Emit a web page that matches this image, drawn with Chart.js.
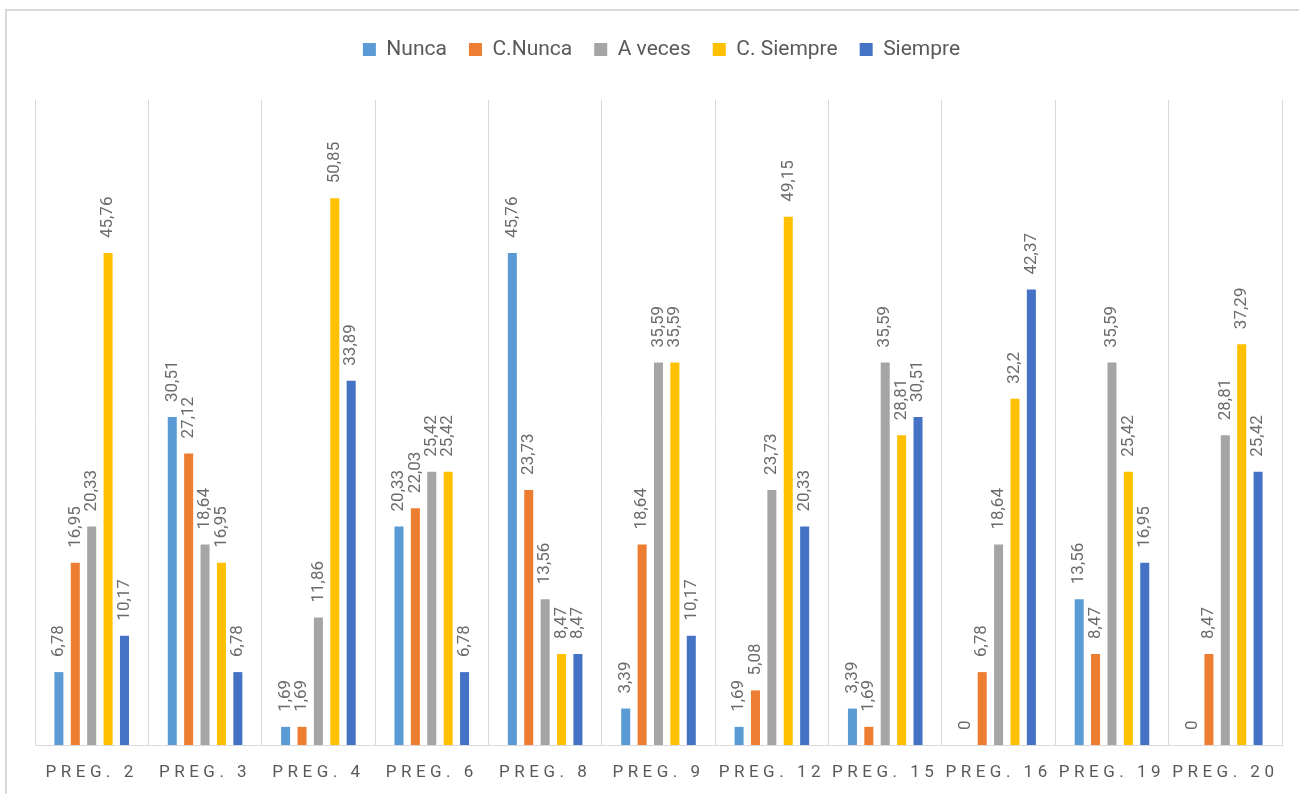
<!DOCTYPE html>
<html>
<head>
<meta charset="utf-8">
<title>Respuestas por pregunta</title>
<script src="https://cdn.jsdelivr.net/npm/chart.js@4.4.1/dist/chart.umd.min.js"></script>
<style>
  html, body { margin: 0; padding: 0; background: #fff; overflow: hidden; }
  #frame { position: absolute; left: 5px; top: 9px; width: 1400px; height: 900px; border: 2px solid #d9d9d9; box-sizing: border-box; }
  #chart { position: absolute; left: 0; top: 0; }
</style>
</head>
<body>
<div id="frame"></div>
<canvas id="chart" width="1299" height="794"></canvas>
<script>
const preguntas = ['PREG. 2', 'PREG. 3', 'PREG. 4', 'PREG. 6', 'PREG. 8', 'PREG. 9', 'PREG. 12', 'PREG. 15', 'PREG. 16', 'PREG. 19', 'PREG. 20'];
const nunca      = [6.78, 30.51, 1.69, 20.33, 45.76, 3.39, 1.69, 3.39, 0, 13.56, 0];
const casiNunca  = [16.95, 27.12, 1.69, 22.03, 23.73, 18.64, 5.08, 1.69, 6.78, 8.47, 8.47];
const aVeces     = [20.33, 18.64, 11.86, 25.42, 13.56, 35.59, 23.73, 35.59, 18.64, 35.59, 28.81];
const casiSiempre = [45.76, 16.95, 50.85, 25.42, 8.47, 35.59, 49.15, 28.81, 32.2, 25.42, 37.29];
const siempre    = [10.17, 6.78, 33.89, 6.78, 8.47, 10.17, 20.33, 30.51, 42.37, 16.95, 25.42];

const TEXT = '#595959';
const GRID = '#d9d9d9';

// extra room under the legend so the plot starts lower
const legendSpace = {
    id: 'legendSpace',
    beforeInit(chart) {
        const legend = chart.legend;
        const fit = legend.fit;
        legend.fit = function () {
            fit.call(this);
            this.height = 83;
        };
        const draw = legend.draw;
        legend.draw = function () {
            this.ctx.save();
            this.ctx.translate(3, 0);
            draw.call(this);
            this.ctx.restore();
        };
    }
};

// rotated value labels above each bar, decimal comma
const valueLabels = {
    id: 'valueLabels',
    afterDatasetsDraw(chart) {
        const ctx = chart.ctx;
        ctx.save();
        ctx.font = '17px Roboto';
        ctx.fillStyle = '#6b6b6b';
        ctx.textAlign = 'left';
        ctx.textBaseline = 'middle';
        chart.data.datasets.forEach((ds, i) => {
            chart.getDatasetMeta(i).data.forEach((bar, j) => {
                const txt = String(ds.data[j]).replace('.', ',');
                ctx.save();
                ctx.translate(bar.x, bar.y - 15);
                ctx.rotate(-Math.PI / 2);
                ctx.fillText(txt, 0, 0);
                ctx.restore();
            });
        });
        ctx.restore();
    }
};

// category names under the axis, letter-spaced
const axisLabels = {
    id: 'axisLabels',
    afterDraw(chart) {
        const { ctx, chartArea, scales: { x } } = chart;
        ctx.save();
        ctx.font = '17px Roboto';
        ctx.fillStyle = TEXT;
        ctx.letterSpacing = '4.5px';
        ctx.textAlign = 'center';
        ctx.textBaseline = 'middle';
        chart.data.labels.forEach((lbl, i) => {
            ctx.fillText(lbl, x.getPixelForValue(i), chartArea.bottom + 28);
        });
        ctx.restore();
    }
};

new Chart(document.getElementById('chart'), {
    type: 'bar',
    data: {
        labels: preguntas,
        datasets: [
            { label: 'Nunca', data: nunca, backgroundColor: '#5b9bd5' },
            { label: 'C.Nunca', data: casiNunca, backgroundColor: '#ed7d31' },
            { label: 'A veces', data: aVeces, backgroundColor: '#a5a5a5' },
            { label: 'C. Siempre', data: casiSiempre, backgroundColor: '#ffc000' },
            { label: 'Siempre', data: siempre, backgroundColor: '#4472c4' }
        ]
    },
    options: {
        responsive: false,
        animation: false,
        categoryPercentage: 0.723,
        barPercentage: 0.55,
        layout: { padding: { left: 35, right: 17, top: 17, bottom: 49 } },
        plugins: {
            legend: {
                position: 'top',
                labels: {
                    boxWidth: 13,
                    boxHeight: 13,
                    padding: 22,
                    color: TEXT,
                    font: { family: 'Roboto', size: 21 }
                }
            },
            tooltip: { enabled: false }
        },
        scales: {
            x: {
                grid: { offset: true, color: GRID, lineWidth: 1, drawTicks: false },
                border: { color: GRID, width: 1 },
                ticks: { display: false }
            },
            y: { display: false, min: 0, max: 60 }
        }
    },
    plugins: [legendSpace, valueLabels, axisLabels]
});
</script>
</body>
</html>
